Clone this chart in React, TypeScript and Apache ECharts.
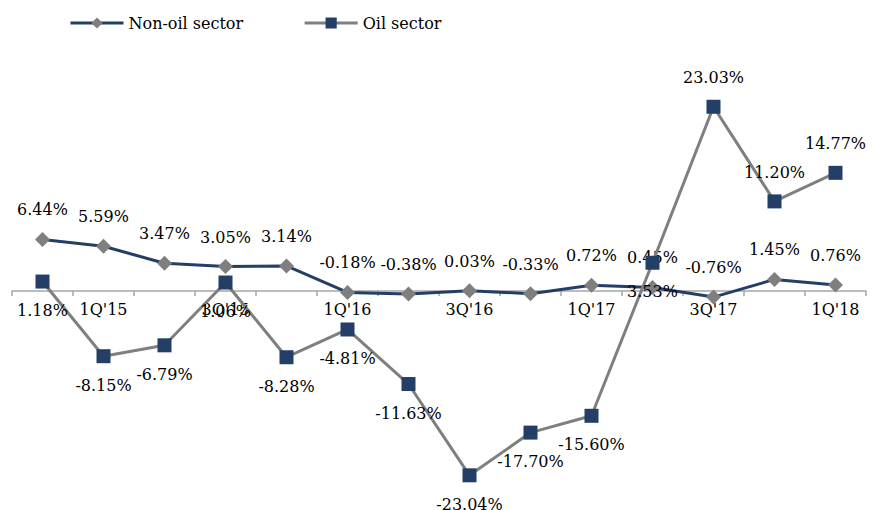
import React, { useEffect, useRef } from "react";
import * as echarts from "echarts";

const quarters = [
  "4Q'14", "1Q'15", "2Q'15", "3Q'15", "4Q'15", "1Q'16", "2Q'16",
  "3Q'16", "4Q'16", "1Q'17", "2Q'17", "3Q'17", "4Q'17", "1Q'18",
];
const nonOilGrowth = [6.44, 5.59, 3.47, 3.05, 3.14, -0.18, -0.38, 0.03, -0.33, 0.72, 0.45, -0.76, 1.45, 0.76];
const oilGrowth = [1.18, -8.15, -6.79, 1.06, -8.28, -4.81, -11.63, -23.04, -17.7, -15.6, 3.53, 23.03, 11.2, 14.77];
// oil labels that sit above their marker; the rest sit below
const oilLabelsAbove = [11, 12, 13];

const NAVY = "#243f66";
const GRAY = "#7f7f7f";
const FONT = "DejaVu Serif";

// plot area and value range; the category axis is lifted to the zero line
const GRID_TOP = 91;
const GRID_BOTTOM = 19;
const Y_MIN = -25;
const Y_MAX = 25;
const PLOT_H = 510 - GRID_TOP - GRID_BOTTOM;
const ZERO_LIFT = (PLOT_H * (0 - Y_MIN)) / (Y_MAX - Y_MIN);

export default function App() {
  const ref = useRef<HTMLDivElement>(null);

  useEffect(() => {
    if (!ref.current) return;
    const chart = echarts.init(ref.current, undefined, { renderer: "svg" });
    const pct = (p: any) => `${Number(p.value).toFixed(2)}%`;
    const labelBase = {
      show: true,
      formatter: pct,
      color: "#000",
      fontFamily: FONT,
      fontSize: 16,
      distance: 14,
    };
    chart.setOption({
      animation: false,
      legend: {
        top: 10,
        left: 64,
        itemWidth: 53,
        itemHeight: 14,
        itemGap: 60,
        lineStyle: { width: 3 },
        textStyle: { fontFamily: FONT, fontSize: 16, color: "#000" },
        data: ["Non-oil sector", "Oil sector"],
      },
      grid: { left: 12, right: 11, top: GRID_TOP, bottom: GRID_BOTTOM, outerBoundsMode: "none" },
      xAxis: {
        type: "category",
        data: quarters,
        boundaryGap: true,
        offset: -ZERO_LIFT,
        axisLine: { onZero: false, lineStyle: { color: "#a6a6a6", width: 1.5 } },
        axisTick: { show: true, interval: 0, length: 5, lineStyle: { color: "#a6a6a6", width: 1.5 } },
        axisLabel: {
          interval: (i: number) => i % 2 === 1,
          margin: 10,
          color: "#000",
          fontFamily: FONT,
          fontSize: 16,
        },
      },
      yAxis: {
        type: "value",
        min: Y_MIN,
        max: Y_MAX,
        show: false,
        splitLine: { show: false },
      },
      series: [
        {
          name: "Non-oil sector",
          type: "line",
          data: nonOilGrowth,
          symbol: "diamond",
          symbolSize: 15,
          lineStyle: { color: NAVY, width: 3 },
          itemStyle: { color: GRAY },
          label: { ...labelBase, position: "top" },
          z: 2,
        },
        {
          name: "Oil sector",
          type: "line",
          data: oilGrowth.map((v, i) => ({
            value: v,
            label: { position: oilLabelsAbove.includes(i) ? "top" : "bottom" },
          })),
          symbol: "rect",
          symbolSize: 14,
          lineStyle: { color: GRAY, width: 3 },
          itemStyle: { color: NAVY },
          label: { ...labelBase },
          z: 3,
        },
      ],
    });
    return () => chart.dispose();
  }, []);

  return (
    <div
      ref={ref}
      style={{ position: "fixed", left: 0, top: 0, width: 877, height: 510, background: "#fff" }}
    />
  );
}
